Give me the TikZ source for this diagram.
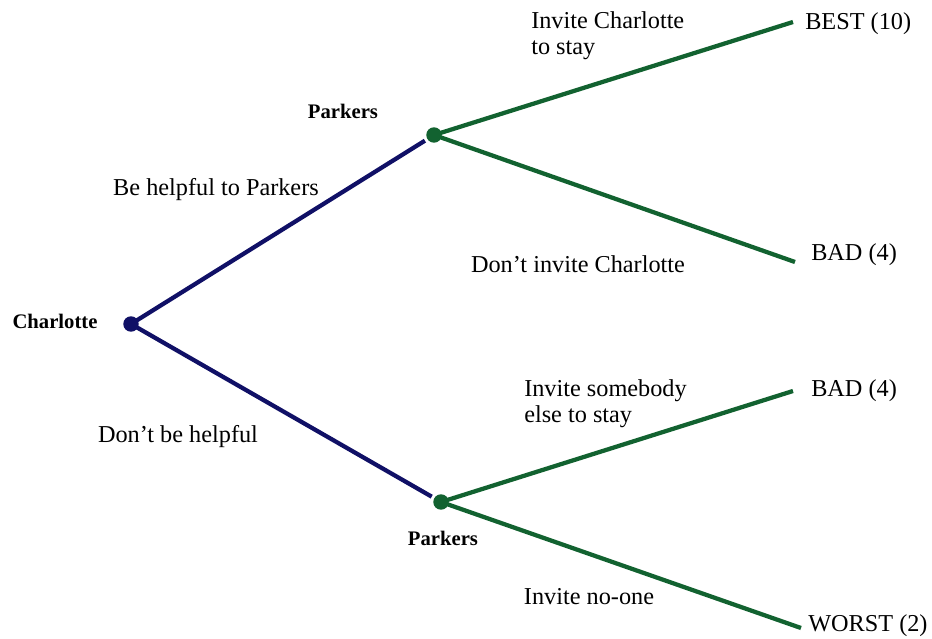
\documentclass[tikz,border=0pt]{standalone}
\usepackage{fontspec}
\setmainfont{Liberation Serif}
\usepackage{xcolor}
\usetikzlibrary{positioning, calc}

\definecolor{navyline}{RGB}{16,16,102}
\definecolor{greenline}{RGB}{18,98,48}

\begin{document}
\begin{tikzpicture}[
    x=0.75pt, y=-0.75pt,
    font=\fontsize{18.2}{19.5}\selectfont,
    player/.style={
        font=\fontsize{15.5}{18}\selectfont\bfseries,
        inner sep=0pt
    },
    choice/.style={
        align=left,
        inner sep=0pt
    },
    payoff/.style={
        anchor=west,
        inner sep=0pt
    },
    firstmove/.style={
        navyline,
        line width=3.2pt
    },
    secondmove/.style={
        greenline,
        line width=3.2pt
    }
]

\useasboundingbox (0,0) rectangle (932,639);

% Decision points
\fill[navyline] (131,324) circle[radius=5.8pt] coordinate (root);
\fill[greenline] (434,135) circle[radius=5.8pt] coordinate (top);
\fill[greenline] (441,502) circle[radius=5.8pt] coordinate (bot);

% End points
\coordinate (best) at (793,22);
\coordinate (badA) at (795,262);
\coordinate (badB) at (793,391);
\coordinate (worst) at (801,628);

% Players
\node[player] (charlotte) at (55,321) {Charlotte};
\node[player] (parkersTop) at (343,111) {Parkers};
\node[player] (parkersBot) at (443,538) {Parkers};

% Charlotte's moves
\draw[firstmove] (root) -- ($(root)!0.97!(top)$);
\draw[firstmove] (root) -- ($(root)!0.97!(bot)$);

% Parkers' moves
\foreach \from/\to in {top/best, top/badA, bot/badB, bot/worst} {
    \draw[secondmove] (\from) -- (\to);
}

% Labels of the moves
\node[choice] (helpful) at (216,190) {Be helpful to Parkers};
\node[choice] (nothelpful) at (178,437) {Don’t be helpful};
\node[choice, anchor=north west] (invite) at (531,11) {Invite Charlotte\\to stay};
\node[choice] (noinvite) at (578,264) {Don’t invite Charlotte};
\node[choice, anchor=north west] (other) at (524,379) {Invite somebody\\else to stay};
\node[choice] (noone) at (589,597) {Invite no-one};

% Payoffs
\node[payoff] (bestlab) at (805,24) {BEST (10)};
\node[payoff] (badAlab) at (811,255) {BAD (4)};
\node[payoff] (badBlab) at (811,391) {BAD (4)};
\node[payoff] (worstlab) at (808,626) {WORST (2)};

\end{tikzpicture}
\end{document}
